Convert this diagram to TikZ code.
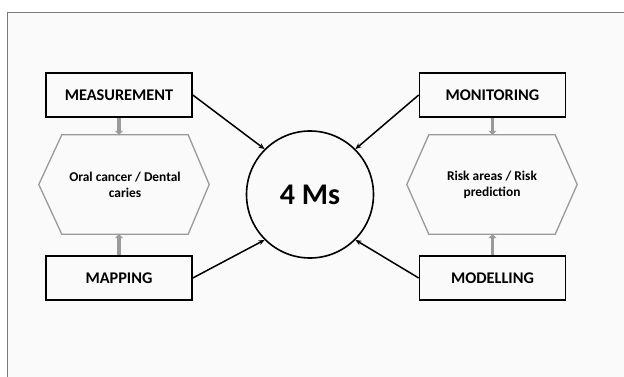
\documentclass[tikz,border=0pt]{standalone}
\usepackage{fontspec}
\setmainfont{Carlito}
\usetikzlibrary{arrows.meta}
\definecolor{pagebg}{HTML}{FAFAFA}
\definecolor{framegray}{HTML}{7A7A7A}
\definecolor{hexgray}{HTML}{9A9A9A}
\tikzset{
	mbox/.style={draw, line width=1.6pt, minimum width=146pt, minimum height=44pt, font=\fontsize{16.3}{19}\selectfont\bfseries},
	hexbox/.style={minimum width=126pt, minimum height=99pt, align=center, font=\fontsize{13.4}{16}\selectfont\bfseries},
	hexline/.style={draw=hexgray, line width=1.3pt},
	grayarrow/.style={draw=hexgray, line width=3.5pt, -{Triangle[length=4pt, width=8pt]}},
	blackarrow/.style={line width=1.5pt, -{Stealth[length=6pt, width=5pt]}}
}
\begin{document}
\begin{tikzpicture}[x=1pt, y=-1pt]
		\useasboundingbox (0,0) rectangle (624,377);
		\fill[pagebg] (7,12) rectangle (624,377);
		\draw[framegray, line width=0.8pt] (7,377) -- (7,12) -- (624,12);
		\node[mbox] (meas) at (119, 95) {MEASUREMENT};
		\node[mbox] (map) at (119,278) {MAPPING};
		\node[mbox] (mon) at (492.5, 95) {MONITORING};
		\node[mbox] (mod) at (492.5,278) {MODELLING};
		\node[hexbox] (hexL) at (125,184.5) {Oral cancer / Dental\\caries};
		\node[hexbox] (hexR) at (492,184.5) {Risk areas / Risk\\prediction};
		\node[draw, circle, line width=1.6pt, minimum size=127pt, font=\fontsize{30}{35}\selectfont\bfseries] (ms) at (310,194.5) {4 Ms};
		\draw[hexline] (hexL.north west) -- (hexL.north east) -- ([xshift=21pt]hexL.east) -- (hexL.south east) -- (hexL.south west) -- ([xshift=-23pt]hexL.west) -- cycle;
		\draw[hexline] (hexR.north west) -- (hexR.north east) -- ([xshift=22pt]hexR.east) -- (hexR.south east) -- (hexR.south west) -- ([xshift=-22pt]hexR.west) -- cycle;
		\draw[grayarrow] (meas.south) -- (meas.south |- hexL.north);
		\draw[grayarrow] (map.north) -- (map.north |- hexL.south);
		\draw[grayarrow] (mon.south) -- (mon.south |- hexR.north);
		\draw[grayarrow] (mod.north) -- (mod.north |- hexR.south);
		\draw[blackarrow] (meas.east) -- (ms.135);
		\draw[blackarrow] (map.east) -- (ms.225);
		\draw[blackarrow] (mon.west) -- (ms.45);
		\draw[blackarrow] (mod.west) -- (ms.-45);
\end{tikzpicture}
\end{document}
